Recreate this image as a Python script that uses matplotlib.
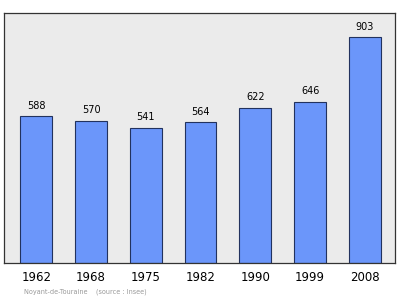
import matplotlib.pyplot as plt

years = ["1962", "1968", "1975", "1982", "1990", "1999", "2008"]
population = [588, 570, 541, 564, 622, 646, 903]

fig = plt.figure(figsize=(4, 2.99), dpi=100)
ax = fig.add_axes([0.01, 0.1204, 0.9775, 0.8361])
ax.set_facecolor("#ebebeb")

pos = list(range(len(years)))
ax.bar(pos, population, width=0.58, color="#6b96fa", edgecolor="#22325e", lw=0.8, zorder=2)
for x, v in zip(pos, population):
    ax.text(x, v + 22, str(v), ha="center", va="bottom", fontsize=7)

ax.set_xlim(-0.59, 6.55)
ax.set_ylim(0, 1000)
ax.set_yticks([])
ax.set_xticks(pos)
ax.set_xticklabels(years, fontsize=8.5)
ax.tick_params(axis="x", length=0, pad=6)
for s in ax.spines.values():
    s.set_color("#333333")
    s.set_linewidth(0.9)

fig.text(0.06, 0.02, "Noyant-de-Touraine    (source : Insee)", fontsize=4.7, color="#999999")

fig.savefig("out.png", dpi=100)
